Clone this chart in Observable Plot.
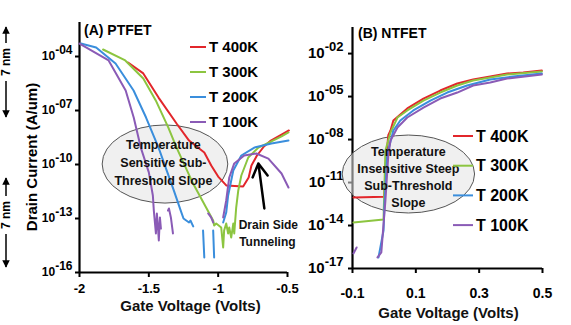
<!DOCTYPE html>
<html><head><meta charset="utf-8">
<script src="https://cdn.jsdelivr.net/npm/d3@7"></script>
<script src="https://cdn.jsdelivr.net/npm/@observablehq/plot@0.6"></script>
<style>
body{margin:0;background:#fff;}
#wrap{position:relative;width:571px;height:325px;overflow:hidden;background:#fff;}
#wrap svg{position:absolute;top:0;overflow:visible;background:transparent;}
</style></head><body><div id="wrap"></div>
<script>
const FONT = "'Liberation Sans', Arial, sans-serif";
const series = ["T 400K", "T 300K", "T 200K", "T 100K"];
const colors = ["#e2262b", "#8cc540", "#3a8edc", "#8a5bb6"];

// ---------- (A) PTFET : gate voltage (V) and log10 drain current (A/um) ----------
const ptXTicks = [-2, -1.5, -1, -0.5];
const ptYTicks = [1e-16, 1e-13, 1e-10, 1e-7, 1e-4];
const pt400V = [-1.65, -1.54, -1.43, -1.30, -1.21, -1.10, -1.05, -1.00, -0.94, -0.82, -0.78, -0.76, -0.72, -0.67, -0.62, -0.54, -0.49];
const pt400E = [-4.33, -4.94, -6.28, -7.72, -8.67, -9.33, -10.05, -10.67, -11.17, -11.22, -10.72, -10.05, -9.5, -9.0, -8.67, -8.33, -8.11];
const pt300V = [-1.83, -1.67, -1.54, -1.45, -1.36, -1.30, -1.181, -1.087, -1.036, -1.029, -1.014, -0.978, -0.964, -0.957, -0.942, -0.928, -0.920, -0.906, -0.891, -0.884, -0.870, -0.855, -0.833, -0.783, -0.710, -0.616, -0.543, -0.493];
const pt300E = [-3.61, -4.22, -5.22, -6.44, -7.94, -9.06, -11.06, -12.39, -13.11, -13.39, -13.28, -13.5, -14.61, -13.67, -13.28, -13.83, -13.5, -14.06, -13.28, -13.83, -12.39, -11.44, -10.61, -9.61, -9.06, -8.72, -8.44, -8.22];
const pt200V = [-1.99, -1.88, -1.74, -1.61, -1.52, -1.43, -1.32, -1.27, -1.25, -1.23, -1.21, -1.20, -1.18, null, -1.109, -1.10, null, -1.036, -1.029, null, -0.964, -0.942, -0.928, -0.891, -0.833, -0.739, -0.616, -0.493];
const pt200E = [-3.28, -3.5, -4.39, -5.89, -7.39, -9.06, -11.44, -12.56, -13.0, -13.11, -13.22, -13.11, -13.44, null, -13.67, -15.17, null, -13.67, -15.17, null, -13.22, -12.67, -11.72, -10.33, -9.5, -9.06, -8.83, -8.67];
const pt100V = [-2.0, -1.79, -1.667, -1.609, -1.558, -1.5, -1.471, -1.464, -1.449, -1.442, -1.435, -1.428, -1.42, -1.413, null, -1.362, -1.355, -1.341, -1.326, null, -1.072, -1.051, -1.036, null, -0.964, -0.942, -0.920, -0.884, -0.812, -0.725, -0.638, -0.543, -0.493];
const pt100E = [-3.28, -4.22, -5.89, -7.39, -9.06, -10.44, -11.72, -12.56, -13.83, -12.72, -13.39, -14.22, -12.94, -13.56, null, -12.56, -12.44, -12.94, -13.83, null, -12.72, -12.94, -13.22, null, -12.94, -12.0, -10.72, -9.94, -9.5, -9.39, -9.67, -10.5, -11.28];

// ---------- (B) NTFET ----------
const ntXTicks = [-0.1, 0.1, 0.3, 0.5];
const ntYTicks = [1e-17, 1e-14, 1e-11, 1e-8, 1e-5, 1e-2];
const nt400V = [-0.097, 0.0, 0.006, 0.013, 0.02, 0.029, 0.073, 0.124, 0.177, 0.231, 0.281, 0.335, 0.388, 0.439, 0.498];
const nt400E = [-12.05, -12.0, -9.5, -7.7, -7.37, -6.67, -5.83, -5.14, -4.58, -4.09, -3.81, -3.6, -3.39, -3.32, -3.18];
const nt300V = [-0.097, -0.002, 0.004, 0.02, 0.042, 0.073, 0.124, 0.177, 0.231, 0.281, 0.335, 0.388, 0.498];
const nt300E = [-13.79, -13.58, -8.77, -7.51, -6.46, -5.97, -5.28, -4.72, -4.23, -3.88, -3.67, -3.46, -3.25];
const nt200V = [-0.018, -0.012, -0.002, 0.001, 0.010, 0.029, 0.051, 0.092, 0.146, 0.199, 0.262, 0.335, 0.407, 0.498];
const nt200E = [-16.23, -15.53, -14.35, -12.46, -8.97, -7.37, -6.67, -5.97, -5.28, -4.72, -4.23, -3.81, -3.6, -3.39];
const nt100V = [-0.097, -0.087, null, -0.021, -0.009, 0.004, 0.013, 0.02, 0.042, 0.073, 0.124, 0.177, 0.231, 0.281, 0.335, 0.388, 0.498];
const nt100E = [-15.95, -15.53, null, -16.23, -15.88, -12.25, -9.11, -8.07, -7.16, -6.46, -5.77, -5.14, -4.72, -4.23, -4.02, -3.74, -3.46];

function rows(pairs) {
  const out = [];
  pairs.forEach(([V, E], k) => V.forEach((v, j) => out.push({
    s: series[k], v: v == null ? NaN : v, i: E[j] == null ? NaN : Math.pow(10, E[j])
  })));
  return out;
}
const ptRows = rows([[pt400V, pt400E], [pt300V, pt300E], [pt200V, pt200E], [pt100V, pt100E]]);
const ntRows = rows([[nt400V, nt400E], [nt300V, nt300E], [nt200V, nt200E], [nt100V, nt100E]]);

const expFmt = d => { const e = Math.round(Math.log10(d)); return "10|-" + String(-e).padStart(2, "0"); };

const wrap = document.getElementById("wrap");

function supify(svg, fs, dy) {
  d3.select(svg).selectAll("text").each(function () {
    const t = this.textContent;
    if (t.includes("|")) {
      const [b, e] = t.split("|");
      const sel = d3.select(this);
      sel.selectAll("*").remove(); sel.text(null);
      sel.append("tspan").text(b);
      sel.append("tspan").attr("font-size", fs).attr("dy", dy).text(e);
    }
  });
}

function addEllipse(plot, cx, cy, rx, ry) {
  const sx = plot.scale("x"), sy = plot.scale("y");
  const px = sx.apply(cx), py = sy.apply(Math.pow(10, cy));
  const prx = Math.abs(sx.apply(cx + rx) - px);
  const pry = Math.abs(sy.apply(Math.pow(10, cy + ry)) - py);
  const first = plot.querySelector("g[aria-label='line']");
  const el = document.createElementNS("http://www.w3.org/2000/svg", "ellipse");
  el.setAttribute("cx", px); el.setAttribute("cy", py);
  el.setAttribute("rx", prx); el.setAttribute("ry", pry);
  el.setAttribute("fill", "#e4e4e4"); el.setAttribute("fill-opacity", "0.55");
  el.setAttribute("stroke", "#555"); el.setAttribute("stroke-width", "1");
  plot.insertBefore(el, first);
}

function legend(plot, x0, y0, step, len, fs) {
  const g = d3.select(plot).append("g").attr("text-anchor", "start");
  series.forEach((s, k) => {
    const y = y0 + k * step;
    g.append("line").attr("x1", x0).attr("x2", x0 + len).attr("y1", y).attr("y2", y)
      .attr("stroke", colors[k]).attr("stroke-width", 2);
    g.append("text").attr("x", x0 + len + 3).attr("y", y).attr("dy", "0.36em").attr("text-anchor", "start")
      .attr("font-size", fs).attr("font-weight", "bold").attr("font-family", FONT).attr("fill", "#000").text(s);
  });
}

// ---------- left panel ----------
const left = Plot.plot({
  width: 300, height: 325,
  marginLeft: 79, marginRight: 13, marginTop: 22, marginBottom: 53,
  x: {domain: [-2, -0.5]},
  y: {type: "log", domain: [1e-16, Math.pow(10, -2.11)]},
  color: {domain: series, range: colors},
  style: {fontFamily: FONT, fontWeight: "bold", color: "#000", background: "transparent", overflow: "visible"},
  marks: [
    Plot.axisX({ticks: ptXTicks, tickFormat: d => String(d), tickSize: 5, tickPadding: 6, fontSize: 13, strokeWidth: 2, label: null}),
    Plot.axisY({ticks: ptYTicks, tickFormat: expFmt, tickSize: 4, tickPadding: 3, fontSize: 12, strokeWidth: 2, label: null}),
    Plot.ruleX([-2], {strokeWidth: 2.2}),
    Plot.ruleY([1e-16], {strokeWidth: 2.2}),
    Plot.line(ptRows, {x: "v", y: "i", z: "s", stroke: "s", strokeWidth: 2}),
    Plot.arrow([{x1: -0.667, y1: Math.pow(10, -12.44), x2: -0.710, y2: Math.pow(10, -9.94)}],
      {x1: "x1", y1: "y1", x2: "x2", y2: "y2", stroke: "#000", strokeWidth: 2.5, headLength: 11}),
    Plot.text(["Temperature\nSensitive Sub-\nThreshold Slope"], {x: -1.395, y: Math.pow(10, -9.83), fontSize: 12.5, lineHeight: 1.45, fontWeight: "bold", fill: "#111"}),
    Plot.text(["Drain Side"], {x: -0.638, y: Math.pow(10, -13.39), fontSize: 12, fontWeight: "bold", fill: "#111"}),
    Plot.text(["Tunneling"], {x: -0.645, y: Math.pow(10, -14.33), fontSize: 12, fontWeight: "bold", fill: "#111"}),
    Plot.text(["Gate Voltage (Volts)"], {frameAnchor: "bottom", lineAnchor: "middle", dx: 7, dy: 34, fontSize: 15, fontWeight: "bold", fill: "#111"})
  ]
});
left.style.left = "0px";
wrap.appendChild(left);
supify(left, 12, "-0.5em");
addEllipse(left, -1.38, -10.0, 0.453, 2.17);
legend(left, 190, 47, 25, 16, 15);
{
  const s = d3.select(left);
  s.append("text").attr("x", 84).attr("y", 35).attr("text-anchor", "start").attr("font-size", 14).attr("font-weight", "bold").attr("font-family", FONT).text("(A) PTFET");
  s.append("text").attr("transform", "translate(32,157) rotate(-90)").attr("text-anchor", "middle").attr("dy", "0.36em")
    .attr("font-size", 15).attr("font-weight", "bold").attr("font-family", FONT).text("Drain Current (A/um)");
  // cropped "7 nm" dimension arrows at the far left edge
  const defs = s.append("defs");
  defs.append("marker").attr("id", "ah").attr("viewBox", "0 0 10 10").attr("refX", 9).attr("refY", 5)
    .attr("markerWidth", 5).attr("markerHeight", 5).attr("orient", "auto-start-reverse")
    .append("path").attr("d", "M0,0L10,5L0,10z").attr("fill", "#000");
  [[27, 117, 62], [178, 267, 215]].forEach(([a, b, c]) => {
    s.append("line").attr("x1", 6).attr("x2", 6).attr("y1", c - 19).attr("y2", a)
      .attr("stroke", "#000").attr("stroke-width", 1.5).attr("marker-end", "url(#ah)");
    s.append("line").attr("x1", 6).attr("x2", 6).attr("y1", c + 19).attr("y2", b)
      .attr("stroke", "#000").attr("stroke-width", 1.5).attr("marker-end", "url(#ah)");
    s.append("text").attr("transform", `translate(6,${c}) rotate(-90)`).attr("text-anchor", "middle").attr("dy", "0.36em")
      .attr("font-size", 12).attr("font-family", FONT).text("7 nm");
  });
}

// ---------- right panel ----------
const right = Plot.plot({
  width: 281, height: 325,
  marginLeft: 62, marginRight: 29, marginTop: 27, marginBottom: 57,
  x: {domain: [-0.1, 0.5]},
  y: {type: "log", domain: [1e-17, Math.pow(10, -0.18)]},
  color: {domain: series, range: colors},
  style: {fontFamily: FONT, fontWeight: "bold", color: "#000", background: "transparent", overflow: "visible"},
  marks: [
    Plot.axisX({ticks: ntXTicks, tickFormat: d => String(d), tickSize: 5, tickPadding: 15, fontSize: 14, strokeWidth: 2, label: null}),
    Plot.axisY({ticks: ntYTicks, tickFormat: expFmt, tickSize: 4, tickPadding: 5, fontSize: 15, strokeWidth: 2, label: null}),
    Plot.ruleX([-0.1], {strokeWidth: 2.2}),
    Plot.ruleY([1e-17], {strokeWidth: 2.2}),
    Plot.line(ntRows, {x: "v", y: "i", z: "s", stroke: "s", strokeWidth: 2}),
    Plot.text(["Temperature\nInsensitive Steep\nSub-Threshold\nSlope"], {x: 0.0764, y: Math.pow(10, -10.55), fontSize: 12.5, lineHeight: 1.36, fontWeight: "bold", fill: "#111"}),
    Plot.text(["Gate Voltage (Volts)"], {frameAnchor: "bottom", lineAnchor: "middle", dx: 1, dy: 45, fontSize: 15, fontWeight: "bold", fill: "#111"})
  ]
});
right.style.left = "290px";
wrap.appendChild(right);
supify(right, 13, "-0.6em");
addEllipse(right, 0.078, -10.44, 0.209, 2.72);
legend(right, 163, 136, 29.7, 20, 16);
d3.select(right).append("text").attr("x", 68).attr("y", 38).attr("text-anchor", "start").attr("font-size", 14).attr("font-weight", "bold")
  .attr("font-family", FONT).text("(B) NTFET");
</script></body></html>
